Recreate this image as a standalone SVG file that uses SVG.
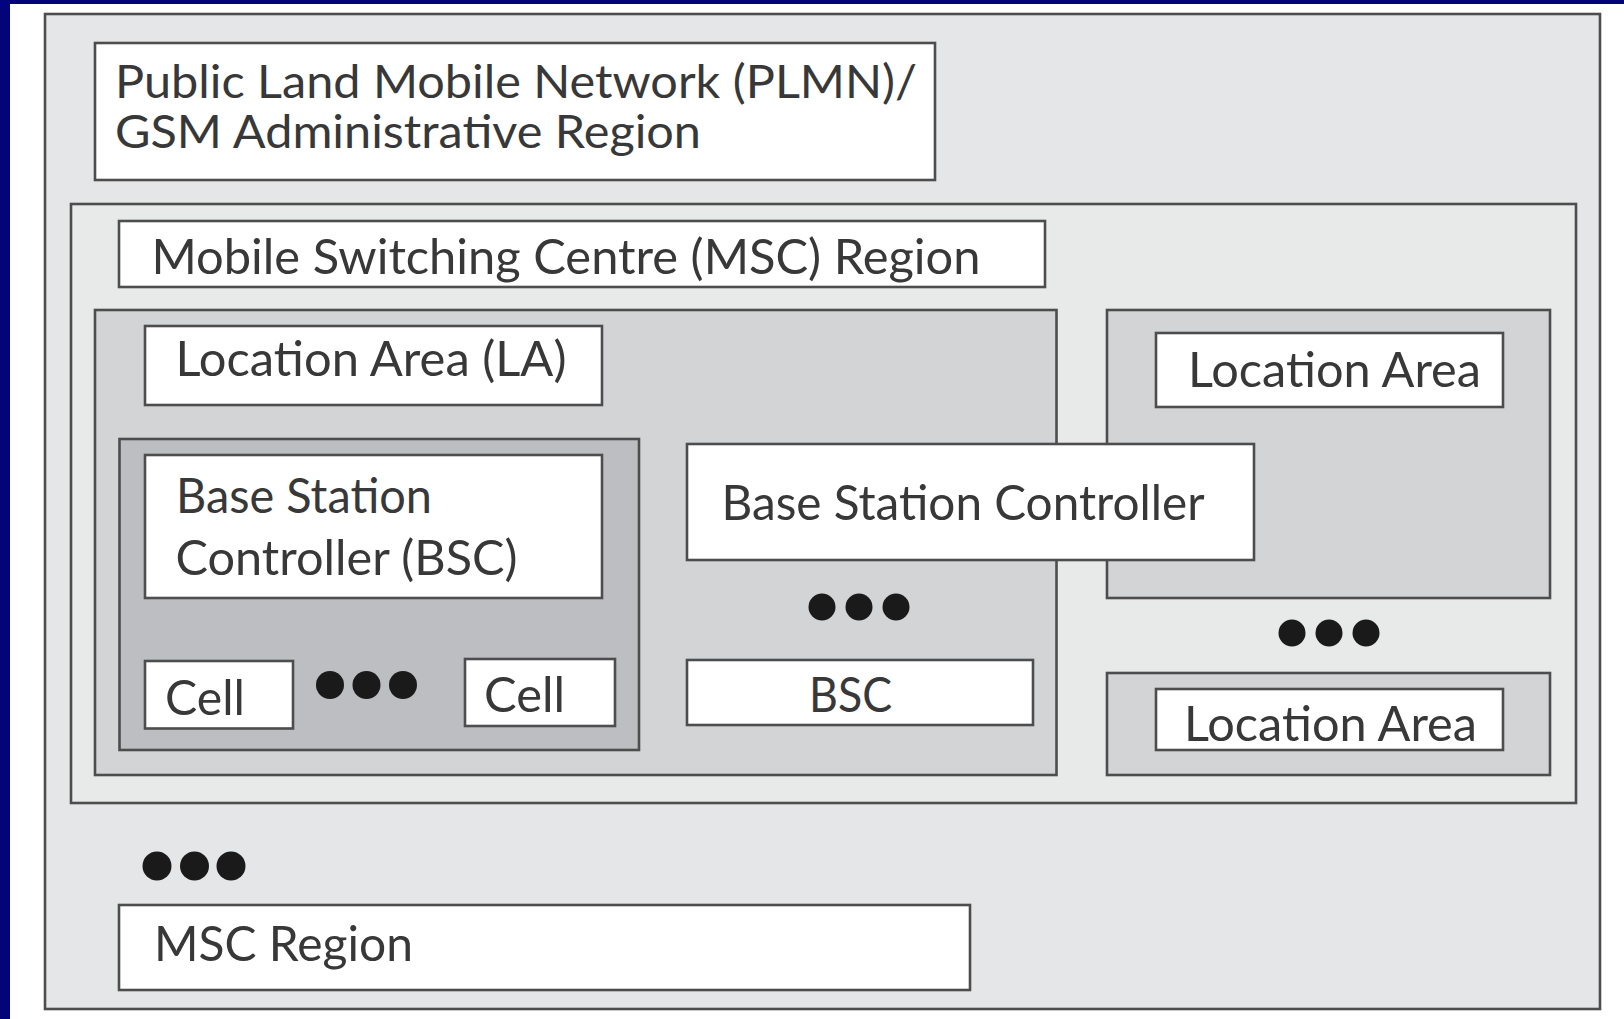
<svg xmlns="http://www.w3.org/2000/svg" width="1624" height="1019" viewBox="0 0 1624 1019">
  <style>
    .box { stroke: #4d4d4d; stroke-width: 2.6; }
    .plmn { fill: #e5e6e7; }
    .msc { fill: #e8e9e9; }
    .la { fill: #d3d4d6; }
    .bscc { fill: #bdbec1; }
    .label { fill: #ffffff; }
    .txt { font-family: Lato, "Liberation Sans", "Open Sans", sans-serif; font-size: 49px; fill: #383838; }
    .tight { font-size: 46px; }
    .dot { fill: #1a1a1a; }
  </style>

  <!-- page frame -->
  <rect x="0" y="0" width="1624" height="1019" fill="#ffffff"/>
  <rect x="0" y="0" width="1624" height="4" fill="#03037a"/>
  <rect x="0" y="0" width="10" height="1019" fill="#03037a"/>

  <!-- PLMN / GSM administrative region -->
  <g id="plmn">
    <rect class="box plmn" x="45" y="14" width="1555" height="995"/>
    <rect class="box label" x="95" y="43" width="840" height="137"/>
    <text class="txt tight" x="115" y="98" textLength="802" lengthAdjust="spacingAndGlyphs">Public Land Mobile Network (PLMN)/</text>
    <text class="txt tight" x="115" y="148" textLength="586" lengthAdjust="spacingAndGlyphs">GSM Administrative Region</text>
  </g>

  <!-- MSC region -->
  <g id="msc-region">
    <rect class="box msc" x="71" y="204" width="1505" height="599"/>
    <rect class="box label" x="119" y="221" width="926" height="66"/>
    <text class="txt" x="151.5" y="273.5" textLength="829" lengthAdjust="spacingAndGlyphs">Mobile Switching Centre (MSC) Region</text>
  </g>

  <!-- location area (LA) -->
  <g id="location-area">
    <rect class="box la" x="95" y="310" width="961.5" height="465"/>
    <rect class="box label" x="145" y="326" width="457" height="79"/>
    <text class="txt" x="175.5" y="376" textLength="391" lengthAdjust="spacingAndGlyphs">Location Area (LA)</text>
  </g>

  <!-- BSC with its cells -->
  <g id="bsc">
    <rect class="box bscc" x="119.5" y="439" width="519.5" height="311"/>
    <rect class="box label" x="145" y="455" width="457" height="143"/>
    <text class="txt" x="176" y="513" textLength="256" lengthAdjust="spacingAndGlyphs">Base Station</text>
    <text class="txt" x="175.5" y="575" textLength="342" lengthAdjust="spacingAndGlyphs">Controller (BSC)</text>
  </g>

  <g id="cell-1">
    <rect class="box label" x="145" y="661" width="148" height="67.5"/>
    <text class="txt" x="165" y="715" textLength="80" lengthAdjust="spacingAndGlyphs">Cell</text>
  </g>

  <g id="cell-dots">
    <circle class="dot" cx="330" cy="685" r="14"/>
    <circle class="dot" cx="366.5" cy="685" r="14"/>
    <circle class="dot" cx="403" cy="685" r="14"/>
  </g>

  <g id="cell-2">
    <rect class="box label" x="465" y="659" width="150" height="67"/>
    <text class="txt" x="484" y="712" textLength="81" lengthAdjust="spacingAndGlyphs">Cell</text>
  </g>

  <!-- further BSCs in the LA -->
  <g id="bsc-dots">
    <circle class="dot" cx="822" cy="607" r="13.5"/>
    <circle class="dot" cx="859" cy="607" r="13.5"/>
    <circle class="dot" cx="896" cy="607" r="13.5"/>
  </g>

  <g id="bsc-small">
    <rect class="box label" x="687" y="660" width="346" height="65"/>
    <text class="txt" x="809" y="712" textLength="83" lengthAdjust="spacingAndGlyphs">BSC</text>
  </g>

  <!-- other location areas -->
  <g id="location-area-2">
    <rect class="box la" x="1107" y="310" width="443" height="288"/>
    <rect class="box label" x="1156" y="333" width="347" height="74"/>
    <text class="txt" x="1188" y="387" textLength="293" lengthAdjust="spacingAndGlyphs">Location Area</text>
  </g>

  <g id="la-dots">
    <circle class="dot" cx="1292" cy="633" r="13.5"/>
    <circle class="dot" cx="1329" cy="633" r="13.5"/>
    <circle class="dot" cx="1366" cy="633" r="13.5"/>
  </g>

  <g id="location-area-3">
    <rect class="box la" x="1107" y="673" width="443" height="102"/>
    <rect class="box label" x="1156" y="689" width="347" height="61"/>
    <text class="txt" x="1184" y="741" textLength="293" lengthAdjust="spacingAndGlyphs">Location Area</text>
  </g>

  <!-- BSC spanning two location areas, drawn on top -->
  <g id="bsc-spanning">
    <rect class="box label" x="687" y="444" width="567" height="116"/>
    <text class="txt" x="721.5" y="520" textLength="483" lengthAdjust="spacingAndGlyphs">Base Station Controller</text>
  </g>

  <!-- further MSC regions -->
  <g id="msc-dots">
    <circle class="dot" cx="157" cy="866" r="14.5"/>
    <circle class="dot" cx="194.5" cy="866" r="14.5"/>
    <circle class="dot" cx="231" cy="866" r="14.5"/>
  </g>

  <g id="msc-region-2">
    <rect class="box label" x="119" y="905" width="851" height="85"/>
    <text class="txt" x="154" y="961" textLength="259" lengthAdjust="spacingAndGlyphs">MSC Region</text>
  </g>

  <g id="connectors"/>
</svg>
